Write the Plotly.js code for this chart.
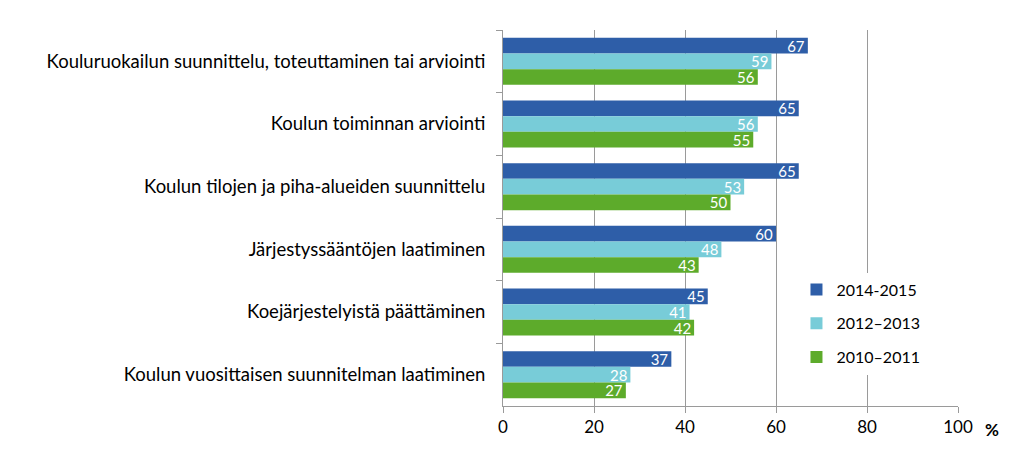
<!DOCTYPE html>
<html>
<head>
<meta charset="utf-8">
<script src="https://cdn.plot.ly/plotly-3.0.1.min.js"></script>
<style>
  html, body { margin: 0; padding: 0; background: #fff; }
  #chart { width: 1024px; height: 468px; }
</style>
</head>
<body>
<div id="chart"></div>
<script>
// Kategoriat ylhäältä alas
var kategoriat = [
    'Kouluruokailun suunnittelu, toteuttaminen tai arviointi',
    'Koulun toiminnan arviointi',
    'Koulun tilojen ja piha-alueiden suunnittelu',
    'Järjestyssääntöjen laatiminen',
    'Koejärjestelyistä päättäminen',
    'Koulun vuosittaisen suunnitelman laatiminen'
];

var sarjat = ['2014-2015', '2012–2013', '2010–2011'];

var arvot2014 = [67, 65, 65, 60, 45, 37];
var arvot2012 = [59, 56, 53, 48, 41, 28];
var arvot2010 = [56, 55, 50, 43, 42, 27];

var xTicks = [0, 20, 40, 60, 80, 100];

var varit = ['#2e5ea8', '#78ccd8', '#5dab2b'];

var fontti = 'Lato, "Open Sans", "DejaVu Sans", sans-serif';

function teeSarja(nimi, arvot, vari) {
    return {
        type: 'bar',
        orientation: 'h',
        name: nimi,
        legendgroup: nimi,
        x: arvot,
        y: kategoriat,
        text: arvot.map(String),
        textposition: 'inside',
        insidetextanchor: 'end',
        textangle: 0,
        constraintext: 'none',
        textfont: { color: '#ffffff', size: 15, family: fontti },
        marker: { color: vari },
        hoverinfo: 'none'
    };
}

var data = [
    teeSarja(sarjat[0], arvot2014, varit[0]),
    teeSarja(sarjat[1], arvot2012, varit[1]),
    teeSarja(sarjat[2], arvot2010, varit[2])
];

var layout = {
    width: 1024,
    height: 468,
    margin: { l: 503, r: 66, t: 30, b: 62 },
    paper_bgcolor: '#ffffff',
    plot_bgcolor: '#ffffff',
    font: { family: fontti, size: 16, color: '#000000' },
    barmode: 'group',
    bargap: 0.25,
    bargroupgap: 0,
    showlegend: true,
    legend: {
        x: 0.645, y: 0.355,
        xanchor: 'left', yanchor: 'top',
        bgcolor: '#ffffff',
        font: { size: 16, family: fontti },
        tracegroupgap: 10,
        itemwidth: 30
    },
    xaxis: {
        range: [0, 100],
        tickvals: xTicks,
        ticktext: xTicks.map(String),
        showgrid: true,
        gridcolor: '#9a9a9a',
        gridwidth: 1,
        showline: true,
        linecolor: '#9a9a9a',
        ticks: 'outside',
        ticklen: 6,
        tickcolor: '#9a9a9a',
        zeroline: false,
        tickfont: { size: 17, family: fontti }
    },
    yaxis: {
        autorange: 'reversed',
        showline: true,
        linecolor: '#9a9a9a',
        ticks: 'outside',
        tickson: 'boundaries',
        ticklen: 6,
        tickcolor: '#9a9a9a',
        showgrid: false,
        ticklabelstandoff: 13,
        tickfont: { size: 18.5, family: fontti }
    },
    annotations: [{
        text: '<b>%</b>',
        xref: 'paper', yref: 'paper',
        x: 1.075, y: -0.03,
        xanchor: 'center', yanchor: 'top',
        showarrow: false,
        font: { size: 17, family: fontti }
    }]
};

Plotly.newPlot('chart', data, layout, { staticPlot: true });
</script>
</body>
</html>
